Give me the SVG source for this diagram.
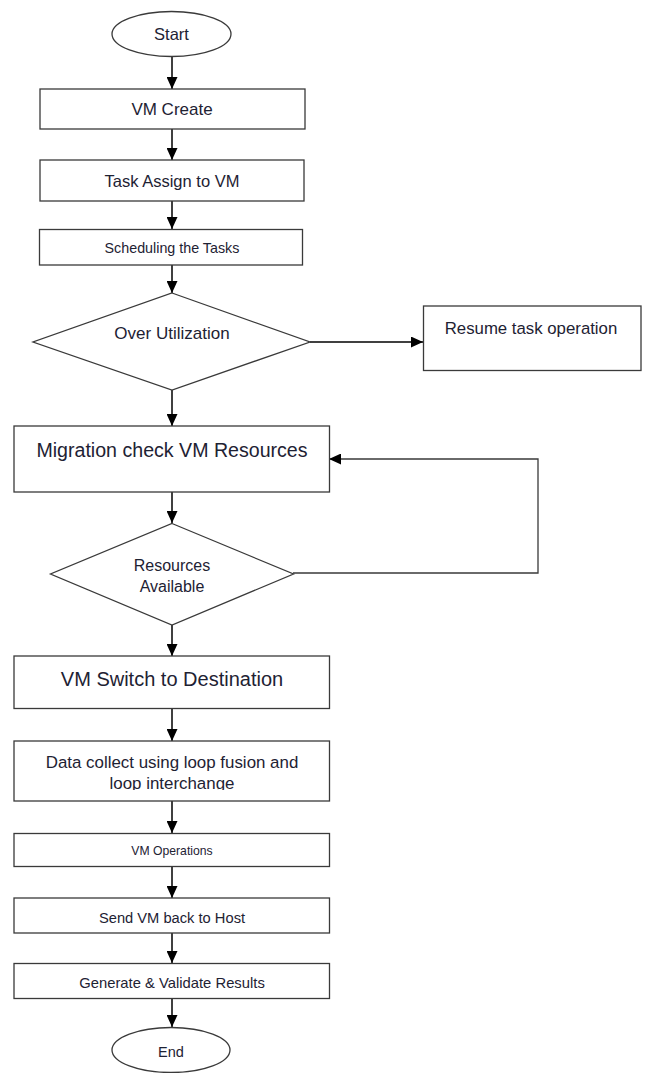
<svg xmlns="http://www.w3.org/2000/svg" width="649" height="1073" viewBox="0 0 649 1073">
<style>
.box{fill:#fff;stroke:#3a3a3a;stroke-width:1.3}
.t{font-family:"Liberation Sans",Arial,sans-serif;fill:#1e2233;text-anchor:middle;dominant-baseline:central}
.c{fill:none;stroke:#000;stroke-width:1.5}
</style>
<defs>
<marker id="ah" markerUnits="userSpaceOnUse" markerWidth="12" markerHeight="11" refX="12" refY="5.5" orient="auto">
<path d="M0,0 L12,5.5 L0,11 z" fill="#000"/>
</marker>
<clipPath id="dclip"><rect x="14" y="741" width="316" height="49"/></clipPath>
</defs>
<rect width="649" height="1073" fill="#fff"/>
<g id="connectors">
<line class="c" x1="172" y1="57" x2="172" y2="89" marker-end="url(#ah)"/>
<line class="c" x1="172" y1="129" x2="172" y2="160" marker-end="url(#ah)"/>
<line class="c" x1="172" y1="201" x2="172" y2="229" marker-end="url(#ah)"/>
<line class="c" x1="172" y1="265" x2="172" y2="293" marker-end="url(#ah)"/>
<line class="c" x1="310" y1="342" x2="423" y2="342" marker-end="url(#ah)"/>
<line class="c" x1="172" y1="390" x2="172" y2="426" marker-end="url(#ah)"/>
<line class="c" x1="172" y1="492" x2="172" y2="523" marker-end="url(#ah)"/>
<polyline class="c" style="stroke:#3a3a3a;stroke-width:1.3" points="293,573 538,573 538,459 329,459" marker-end="url(#ah)"/>
<line class="c" x1="172" y1="625" x2="172" y2="656" marker-end="url(#ah)"/>
<line class="c" x1="172" y1="708" x2="172" y2="741" marker-end="url(#ah)"/>
<line class="c" x1="172" y1="801" x2="172" y2="833" marker-end="url(#ah)"/>
<line class="c" x1="172" y1="867" x2="172" y2="898" marker-end="url(#ah)"/>
<line class="c" x1="172" y1="933" x2="172" y2="963" marker-end="url(#ah)"/>
<line class="c" x1="172" y1="998" x2="172" y2="1027" marker-end="url(#ah)"/>
</g>
<g id="start"><ellipse class="box" cx="171.5" cy="34" rx="59.5" ry="22.5"/><text class="t" x="171.5" y="34" font-size="16.5">Start</text></g>
<g id="vm-create"><rect class="box" x="40" y="89" width="265" height="40"/><text class="t" x="172" y="109" font-size="17">VM Create</text></g>
<g id="task-assign"><rect class="box" x="40" y="160" width="264" height="41"/><text class="t" x="172" y="180.5" font-size="16.5">Task Assign to VM</text></g>
<g id="scheduling"><rect class="box" x="39.5" y="229.5" width="263" height="35.5"/><text class="t" x="172" y="248" font-size="14.3">Scheduling the Tasks</text></g>
<g id="over-utilization"><polygon class="box" points="172,293 310,342 172,390 33,342"/><text class="t" x="172" y="333" font-size="17">Over Utilization</text></g>
<g id="resume"><rect class="box" x="423.5" y="306" width="217.5" height="64.5"/><text class="t" x="531" y="328" font-size="16.8">Resume task operation</text></g>
<g id="migration"><rect class="box" x="14" y="426" width="315.5" height="66"/><text class="t" x="172" y="450" font-size="19.6">Migration check VM Resources</text></g>
<g id="resources-available"><polygon class="box" points="172,523.5 293.5,574 172,625 50.5,574"/><text class="t" x="172" y="565" font-size="16">Resources</text><text class="t" x="172" y="586" font-size="16">Available</text></g>
<g id="vm-switch"><rect class="box" x="14" y="656" width="315.5" height="52.5"/><text class="t" x="172" y="679" font-size="20">VM Switch to Destination</text></g>
<g id="data-collect"><rect class="box" x="14" y="741" width="315.5" height="60"/><g clip-path="url(#dclip)"><text class="t" x="172" y="762.5" font-size="16.9">Data collect using loop fusion and</text><text class="t" x="172" y="783.5" font-size="16.9">loop interchange</text></g></g>
<g id="vm-operations"><rect class="box" x="14" y="833.5" width="315.5" height="33"/><text class="t" x="172" y="850.5" font-size="12.2">VM Operations</text></g>
<g id="send-vm"><rect class="box" x="14" y="898" width="315.5" height="35"/><text class="t" x="172" y="917.5" font-size="14.7">Send VM back to Host</text></g>
<g id="generate"><rect class="box" x="14" y="963.5" width="315.5" height="35"/><text class="t" x="172" y="982.5" font-size="14.8">Generate &amp; Validate Results</text></g>
<g id="end"><ellipse class="box" cx="171" cy="1050" rx="59" ry="22.5"/><text class="t" x="171" y="1051.5" font-size="14.5">End</text></g>
</svg>
